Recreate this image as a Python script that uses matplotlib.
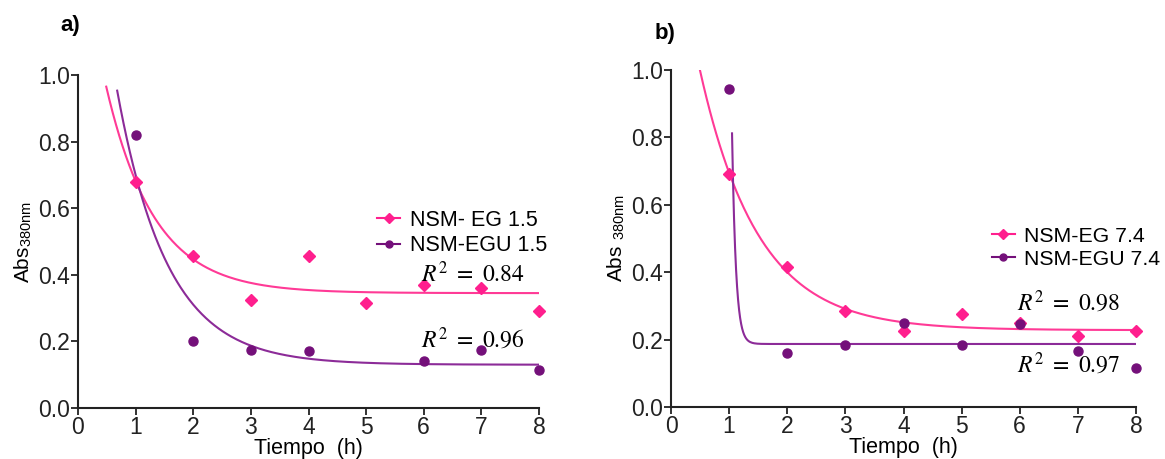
import numpy as np
import matplotlib
matplotlib.use("Agg")
import matplotlib.pyplot as plt

plt.rcParams['font.family'] = ['Liberation Sans', 'DejaVu Sans']
plt.rcParams['mathtext.fontset'] = 'stix'

PINK = '#ff1f8e'
PINK_LINE = '#ff3a96'
PURPLE = '#74107a'
PURPLE_LINE = '#8c2b98'

###############################################################################
# data
hours = [1, 2, 3, 4, 5, 6, 7, 8]
eg15 = [0.68, 0.455, 0.325, 0.455, 0.315, 0.37, 0.36, 0.29]
egu15_hours = [1, 2, 3, 4, 6, 7, 8]
egu15 = [0.82, 0.20, 0.175, 0.17, 0.14, 0.175, 0.115]

eg74 = [0.69, 0.415, 0.285, 0.225, 0.275, 0.25, 0.21, 0.225]
egu74 = [0.945, 0.16, 0.185, 0.25, 0.185, 0.245, 0.165, 0.115]

# exponential decay fits: x_start, value above plateau at start, rate, plateau
fit_eg15 = [0.49, 0.62, 1.2, 0.345]
fit_egu15 = [0.68, 0.823, 1.15, 0.13]
fit_eg74 = [0.50, 0.77, 1.0, 0.228]
fit_egu74 = [1.05, 0.625, 15.0, 0.187]

labels_a = ['NSM- EG 1.5', 'NSM-EGU 1.5']
labels_b = ['NSM-EG 7.4', 'NSM-EGU 7.4']
r2_a = ['0.84', '0.96']
r2_b = ['0.98', '0.97']


###############################################################################
def decay(fit, x_end=8):
    x0, span, k, plateau = fit
    x = np.linspace(x0, x_end, 400)
    return x, plateau + span * np.exp(-k * (x - x0))


def style_axes(ax, ylabel):
    for s in ['top', 'right']:
        ax.spines[s].set_visible(False)
    for s in ['left', 'bottom']:
        ax.spines[s].set_linewidth(1.5)
        ax.spines[s].set_color('#222222')
    ax.set_xlim(0, 8)
    ax.set_ylim(0, 1.0)
    ax.set_xticks(range(0, 9))
    ax.set_yticks(np.arange(0, 1.01, 0.2))
    ax.set_yticklabels(['%.1f' % v for v in np.arange(0, 1.01, 0.2)])
    ax.tick_params(direction='out', length=5, width=1.3, labelsize=16.5,
                   pad=1, colors='#222222', labelcolor='#222222')
    ax.set_xlabel('Tiempo  (h)', fontsize=15.5, labelpad=-1)
    ax.set_ylabel(ylabel, fontsize=15, labelpad=3)


def draw_panel(ax, x_eg, y_eg, x_egu, y_egu, f_eg, f_egu):
    xc, yc = decay(f_eg)
    ax.plot(xc, yc, color=PINK_LINE, lw=1.5, zorder=2)
    xc, yc = decay(f_egu)
    ax.plot(xc, yc, color=PURPLE_LINE, lw=1.5, zorder=2)
    ax.plot(x_eg, y_eg, 'D', color=PINK, ms=6, clip_on=False, zorder=3)
    ax.plot(x_egu, y_egu, 'o', color=PURPLE, ms=6.5, clip_on=False, zorder=3)
    h1, = ax.plot([], [], '-D', color=PINK, ms=5, lw=1.5)
    h2, = ax.plot([], [], '-o', color=PURPLE, ms=5, lw=1.5)
    return [h1, h2]


def r2_text(ax, x, y, value):
    ax.text(x, y, r'$R^2\ =\ %s$' % value, fontsize=17, ha='left', va='center')


fig = plt.figure(figsize=(11.65, 4.59), dpi=100)
ax1 = fig.add_axes([78 / 1165, 1 - 408 / 459, 461 / 1165, 333 / 459])
ax2 = fig.add_axes([671 / 1165, 1 - 407 / 459, 465 / 1165, 337 / 459])

hs = draw_panel(ax1, hours, eg15, egu15_hours, egu15, fit_eg15, fit_egu15)
style_axes(ax1, r'Abs$_{\mathregular{380nm}}$')
ax1.legend(hs, labels_a, loc='upper left', bbox_to_anchor=(366 / 1165, 1 - 199 / 459),
           bbox_transform=fig.transFigure, frameon=False, fontsize=15.5,
           handlelength=1.1, handletextpad=0.45, labelspacing=0.2, borderpad=0)
r2_text(ax1, 5.95, 0.40, r2_a[0])
r2_text(ax1, 5.95, 0.204, r2_a[1])

hs = draw_panel(ax2, hours, eg74, hours, egu74, fit_eg74, fit_egu74)
style_axes(ax2, r'Abs $_{\mathregular{380nm}}$')
ax2.legend(hs, labels_b, loc='upper left', bbox_to_anchor=(981 / 1165, 1 - 216 / 459),
           bbox_transform=fig.transFigure, frameon=False, fontsize=15.3,
           handlelength=1.1, handletextpad=0.4, labelspacing=0.2, borderpad=0)
r2_text(ax2, 5.95, 0.31, r2_b[0])
r2_text(ax2, 5.95, 0.125, r2_b[1])

fig.text(60 / 1165, 1 - 26 / 459, 'a)', fontsize=16, fontweight='bold', va='center')
fig.text(655 / 1165, 1 - 33 / 459, 'b)', fontsize=16, fontweight='bold', va='center')

fig.savefig('out.png', dpi=100)
